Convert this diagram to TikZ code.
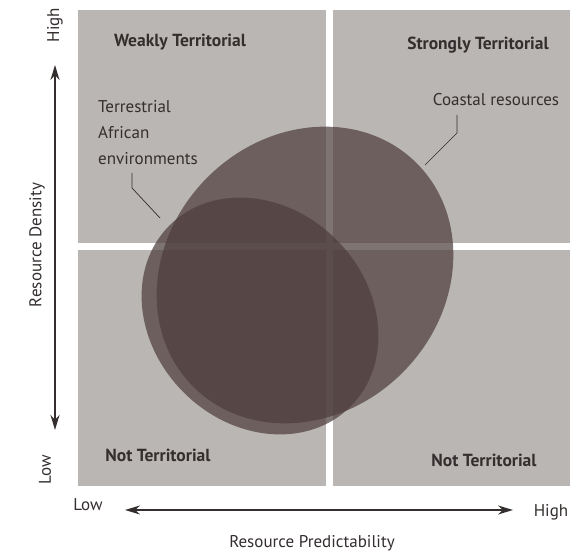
\documentclass[tikz,border=0pt]{standalone}
\usepackage{fontspec}
\setmainfont{PT Sans}
\usetikzlibrary{arrows.meta, positioning, calc}
\definecolor{quadgray}{RGB}{186,182,180}
\definecolor{blobfill}{RGB}{78,62,62}
\definecolor{inkgray}{RGB}{52,46,46}
\tikzstyle{quad} = [fill=quadgray, draw=none]
\tikzstyle{quadlabel} = [font=\bfseries\fontsize{17.5}{20}\selectfont, text=inkgray, inner sep=0pt]
\tikzstyle{note} = [font=\fontsize{17}{26}\selectfont, text=inkgray, align=left, inner sep=0pt]
\tikzstyle{axislabel} = [font=\fontsize{17}{20}\selectfont, text=inkgray, inner sep=0pt]
\tikzstyle{axis} = [line width=1.8pt, draw=inkgray, {Stealth[length=15pt,width=9pt]}-{Stealth[length=15pt,width=9pt]}]
\tikzstyle{blob} = [fill=blobfill, fill opacity=0.72]
\tikzstyle{leader} = [line width=0.7pt, draw=inkgray]

\begin{document}
\begin{tikzpicture}[x=1pt, y=1pt]
    \useasboundingbox (0,0) rectangle (576,556);
    % Quadrants
    \fill[quad] (78,313) rectangle (326,546);
    \fill[quad] (333,313) rectangle (570,546);
    \fill[quad] (78,70) rectangle (326,306);
    \fill[quad] (333,70) rectangle (570,306);

    % Environments
    \fill[blob, shift={(305,281)}, rotate=45] (0,0) ellipse (158pt and 138pt);
    \fill[blob, shift={(260,240)}, rotate=-45] (0,0) ellipse (128pt and 108pt);

    % Quadrant labels
    \node (weak) [quadlabel] at (180,514) {Weakly Territorial};
    \node (strong) [quadlabel] at (478,511) {Strongly Territorial};
    \node (notlow) [quadlabel] at (158,101) {Not Territorial};
    \node (nothigh) [quadlabel] at (484,96) {Not Territorial};

    % Environment labels
    \node (terr) [note, anchor=west] at (98,423) {Terrestrial\\African\\environments};
    \node (coast) [note] at (496,456) {Coastal resources};
    \coordinate (terrtop) at (132,383);
    \coordinate (terrend) at (160,338);
    \coordinate (coasttop) at (457,441);
    \coordinate (coastend) at (425,391);
    \draw [leader] (terrtop) -- ++(0,-15) -- (terrend);
    \draw [leader] (coasttop) -- ++(0,-18) -- (coastend);

    % Axes
    \coordinate (dtop) at (55,491);
    \coordinate (dbot) at (55,126);
    \coordinate (pleft) at (125,46);
    \coordinate (pright) at (513,46);
    \draw [axis] (dbot) -- (dtop);
    \draw [axis] (pleft) -- (pright);
    \node (dens) [axislabel, rotate=90] at (37,311) {Resource Density};
    \node (dhigh) [axislabel, rotate=90] at (55,531) {High};
    \node (dlow) [axislabel, rotate=90] at (45,86) {Low};
    \node (plow) [axislabel] at (88,51) {Low};
    \node (phigh) [axislabel] at (551,44) {High};
    \node (pred) [axislabel] at (312,13) {Resource Predictability};
\end{tikzpicture}
\end{document}
